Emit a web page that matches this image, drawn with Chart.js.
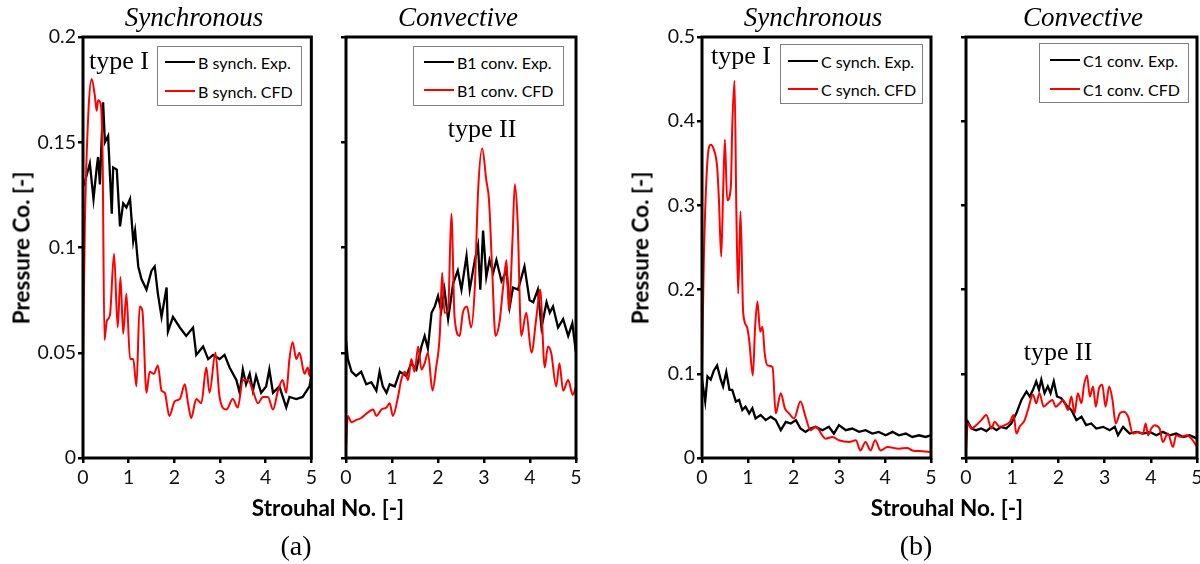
<!DOCTYPE html>
<html><head><meta charset="utf-8">
<script src="https://cdn.jsdelivr.net/npm/chart.js@4.4.1/dist/chart.umd.min.js"></script>
<style>
html,body{margin:0;padding:0;background:#fff;width:1200px;height:564px;overflow:hidden;}
body{position:relative;}
canvas{position:absolute;top:0;}
.t{position:absolute;transform:translate(-50%,-50%);white-space:nowrap;color:#000;z-index:2;}
.ttl{font-family:"Liberation Serif","Times New Roman",serif;font-style:italic;font-size:27px;}
.typ{font-family:"Liberation Serif","Times New Roman",serif;font-size:26px;}
.lab{font-family:"Liberation Serif","Times New Roman",serif;font-size:28px;}
.ax{font-family:Lato,"Open Sans",sans-serif;font-weight:bold;font-size:22.5px;}
.rot{transform:translate(-50%,-50%) rotate(-90deg);}
.leg{position:absolute;border:1px solid #808080;background:#fff;font-family:Lato,"Open Sans",sans-serif;font-size:16px;color:#000;z-index:2;box-sizing:border-box;}
.row{position:absolute;height:20px;display:flex;align-items:center;white-space:nowrap;}
.ln{display:inline-block;width:30px;height:2px;margin-right:3px;}
</style>
</head><body>
<canvas id="c1" width="320" height="500" style="left:0px;width:320px;height:500px"></canvas>
<canvas id="c2" width="256" height="500" style="left:330px;width:256px;height:500px"></canvas>
<canvas id="c3" width="340" height="500" style="left:600px;width:340px;height:500px"></canvas>
<canvas id="c4" width="265" height="500" style="left:945px;width:265px;height:500px"></canvas>

<div class="t ttl" style="left:194px;top:17px">Synchronous</div>
<div class="t ttl" style="left:458px;top:17px">Convective</div>
<div class="t ttl" style="left:813px;top:17px">Synchronous</div>
<div class="t ttl" style="left:1083px;top:17px">Convective</div>

<div class="t typ" style="left:119px;top:61px">type I</div>
<div class="t typ" style="left:482px;top:129px">type II</div>
<div class="t typ" style="left:741px;top:56px">type I</div>
<div class="t typ" style="left:1058px;top:352px">type II</div>

<div class="t ax rot" style="left:21px;top:248px">Pressure Co. [-]</div>
<div class="t ax rot" style="left:640px;top:248px">Pressure Co. [-]</div>
<div class="t ax" style="left:328px;top:507px">Strouhal No. [-]</div>
<div class="t ax" style="left:947px;top:507px">Strouhal No. [-]</div>

<div class="t lab" style="left:296px;top:546px">(a)</div>
<div class="t lab" style="left:916px;top:546px">(b)</div>

<div class="leg" style="left:157px;top:46px;width:145px;height:60px">
  <div class="row" style="left:7px;top:5px"><span class="ln" style="background:#000"></span>B synch. Exp.</div>
  <div class="row" style="left:7px;top:34px"><span class="ln" style="background:#f00"></span>B synch. CFD</div>
</div>
<div class="leg" style="left:413px;top:46px;width:151px;height:60px">
  <div class="row" style="left:10px;top:5px"><span class="ln" style="background:#000"></span>B1 conv. Exp.</div>
  <div class="row" style="left:10px;top:33px"><span class="ln" style="background:#f00"></span>B1 conv. CFD</div>
</div>
<div class="leg" style="left:780px;top:44px;width:143px;height:60px">
  <div class="row" style="left:7px;top:6px"><span class="ln" style="background:#000"></span>C synch. Exp.</div>
  <div class="row" style="left:7px;top:34px"><span class="ln" style="background:#f00"></span>C synch. CFD</div>
</div>
<div class="leg" style="left:1039px;top:43px;width:150px;height:60px">
  <div class="row" style="left:10px;top:6px"><span class="ln" style="background:#000"></span>C1 conv. Exp.</div>
  <div class="row" style="left:10px;top:35px"><span class="ln" style="background:#f00"></span>C1 conv. CFD</div>
</div>

<script>
// ---- tick values / labels ----
const xTicks = [0,1,2,3,4,5];
const xTickLabels = ['0','1','2','3','4','5'];
const yTicksA = [0,0.05,0.1,0.15,0.2];
const yTickLabelsA = ['0','0.05','0.1','0.15','0.2'];
const yTicksB = [0,0.1,0.2,0.3,0.4,0.5];
const yTickLabelsB = ['0','0.1','0.2','0.3','0.4','0.5'];

// ---- (a) B synch ----
const bsExpX = [0,0.04,0.15,0.23,0.30,0.33,0.37,0.44,0.48,0.55,0.63,0.66,0.74,0.81,0.88,0.95,1.03,1.10,1.14,1.21,1.28,1.39,1.50,1.57,1.64,1.72,1.83,1.86,1.97,2.12,2.26,2.41,2.48,2.63,2.74,2.85,2.99,3.10,3.21,3.36,3.43,3.50,3.57,3.65,3.72,3.79,3.90,4.01,4.08,4.16,4.30,4.45,4.52,4.67,4.81,4.96,5.0];
const bsExpY = [0.129,0.131,0.140,0.123,0.138,0.143,0.130,0.169,0.150,0.153,0.116,0.138,0.137,0.110,0.121,0.119,0.123,0.103,0.108,0.091,0.085,0.080,0.089,0.091,0.078,0.067,0.081,0.060,0.067,0.062,0.058,0.062,0.049,0.053,0.047,0.049,0.047,0.049,0.043,0.037,0.031,0.042,0.035,0.040,0.032,0.039,0.031,0.034,0.042,0.031,0.034,0.024,0.029,0.028,0.029,0.034,0.039];
const bsCfdX = [0,0.04,0.12,0.19,0.26,0.30,0.33,0.39,0.43,0.47,0.52,0.59,0.68,0.76,0.82,0.88,0.95,1.03,1.10,1.17,1.24,1.30,1.39,1.46,1.55,1.64,1.72,1.79,1.89,2.01,2.12,2.23,2.30,2.37,2.48,2.59,2.70,2.77,2.90,2.99,3.14,3.28,3.39,3.50,3.61,3.72,3.83,3.94,4.05,4.16,4.27,4.37,4.45,4.52,4.59,4.67,4.74,4.85,4.92,4.96,5.0];
const bsCfdY = [0.043,0.110,0.165,0.180,0.172,0.165,0.170,0.168,0.142,0.056,0.065,0.068,0.097,0.062,0.086,0.059,0.078,0.047,0.047,0.034,0.072,0.070,0.031,0.041,0.040,0.044,0.032,0.031,0.020,0.027,0.028,0.035,0.026,0.019,0.028,0.026,0.043,0.031,0.050,0.029,0.023,0.028,0.024,0.037,0.037,0.032,0.026,0.029,0.029,0.023,0.032,0.037,0.031,0.047,0.055,0.047,0.050,0.040,0.043,0.039,0.049];

// ---- (a) B1 conv ----
const b1ExpX = [0,0.04,0.12,0.22,0.33,0.44,0.55,0.66,0.73,0.80,0.88,0.95,1.06,1.17,1.31,1.42,1.53,1.64,1.71,1.78,1.86,1.93,2.00,2.07,2.14,2.22,2.33,2.43,2.51,2.62,2.69,2.80,2.87,2.92,2.98,3.05,3.12,3.20,3.27,3.38,3.49,3.56,3.63,3.74,3.88,3.99,4.07,4.17,4.25,4.36,4.43,4.50,4.61,4.72,4.83,4.92,5.0];
const b1ExpY = [0.056,0.047,0.041,0.039,0.041,0.035,0.036,0.032,0.041,0.034,0.031,0.035,0.034,0.041,0.039,0.045,0.042,0.053,0.058,0.052,0.069,0.072,0.077,0.070,0.080,0.066,0.083,0.089,0.080,0.096,0.080,0.094,0.101,0.080,0.108,0.086,0.094,0.088,0.094,0.084,0.089,0.072,0.081,0.080,0.091,0.075,0.074,0.080,0.062,0.074,0.069,0.072,0.062,0.066,0.058,0.064,0.050];
const b1CfdX = [0,0.04,0.12,0.22,0.33,0.44,0.59,0.66,0.77,0.88,0.95,1.02,1.13,1.20,1.28,1.35,1.42,1.49,1.57,1.64,1.71,1.78,1.88,1.96,2.04,2.09,2.14,2.22,2.29,2.36,2.47,2.54,2.63,2.72,2.80,2.87,2.96,3.05,3.11,3.18,3.25,3.34,3.41,3.49,3.54,3.62,3.67,3.73,3.81,3.92,4.03,4.14,4.22,4.32,4.39,4.46,4.57,4.64,4.72,4.83,4.93,5.0];
const b1CfdY = [0.005,0.020,0.017,0.018,0.019,0.021,0.023,0.020,0.023,0.024,0.026,0.020,0.029,0.037,0.041,0.037,0.047,0.041,0.053,0.042,0.045,0.050,0.032,0.043,0.059,0.088,0.069,0.070,0.116,0.067,0.058,0.069,0.072,0.062,0.081,0.126,0.147,0.132,0.122,0.088,0.058,0.065,0.080,0.094,0.070,0.104,0.130,0.113,0.058,0.069,0.050,0.067,0.080,0.043,0.053,0.050,0.034,0.045,0.032,0.037,0.030,0.034];

// ---- (b) C synch ----
const csExpX = [0,0.07,0.12,0.19,0.26,0.33,0.41,0.46,0.53,0.60,0.66,0.74,0.81,0.88,0.95,1.03,1.10,1.17,1.28,1.39,1.50,1.61,1.72,1.83,1.94,2.05,2.15,2.26,2.37,2.48,2.63,2.77,2.88,2.99,3.14,3.28,3.43,3.57,3.72,3.86,4.01,4.16,4.30,4.45,4.59,4.74,4.88,5.0];
const csExpY = [0.093,0.067,0.097,0.093,0.104,0.110,0.093,0.085,0.102,0.081,0.081,0.067,0.069,0.057,0.061,0.053,0.059,0.047,0.051,0.045,0.049,0.045,0.033,0.043,0.041,0.045,0.035,0.031,0.035,0.037,0.033,0.037,0.029,0.039,0.033,0.035,0.031,0.033,0.029,0.031,0.027,0.031,0.027,0.029,0.025,0.027,0.025,0.027];
const csCfdX = [0,0.04,0.12,0.19,0.26,0.33,0.37,0.42,0.46,0.50,0.55,0.63,0.66,0.71,0.75,0.79,0.84,0.90,0.98,1.03,1.11,1.16,1.21,1.27,1.32,1.37,1.43,1.54,1.61,1.72,1.81,1.90,2.01,2.15,2.26,2.37,2.48,2.70,2.85,2.99,3.21,3.36,3.46,3.57,3.68,3.78,3.90,4.05,4.30,4.48,4.59,4.81,5.0];
const csCfdY = [0.108,0.235,0.354,0.372,0.366,0.346,0.306,0.239,0.314,0.378,0.306,0.322,0.393,0.448,0.295,0.195,0.293,0.172,0.156,0.140,0.098,0.156,0.186,0.150,0.156,0.124,0.110,0.108,0.053,0.077,0.059,0.053,0.047,0.067,0.049,0.033,0.037,0.023,0.025,0.021,0.019,0.021,0.009,0.019,0.009,0.021,0.009,0.013,0.011,0.012,0.009,0.008,0.007];

// ---- (b) C1 conv ----
const c1ExpX = [0,0.04,0.12,0.22,0.33,0.44,0.55,0.66,0.76,0.87,0.98,1.09,1.20,1.31,1.38,1.45,1.52,1.58,1.63,1.70,1.77,1.83,1.90,1.97,2.06,2.17,2.28,2.39,2.50,2.60,2.71,2.82,2.97,3.11,3.22,3.29,3.40,3.54,3.69,3.83,3.98,4.12,4.26,4.41,4.55,4.70,4.84,5.0];
const c1ExpY = [0.037,0.043,0.035,0.033,0.035,0.032,0.037,0.033,0.037,0.035,0.041,0.053,0.069,0.079,0.073,0.081,0.091,0.081,0.093,0.077,0.085,0.077,0.091,0.073,0.071,0.063,0.057,0.045,0.049,0.039,0.041,0.035,0.037,0.033,0.037,0.027,0.037,0.029,0.031,0.029,0.031,0.027,0.031,0.027,0.029,0.025,0.027,0.023];
const c1CfdX = [0,0.04,0.12,0.22,0.33,0.44,0.55,0.62,0.73,0.84,0.95,1.03,1.09,1.16,1.27,1.34,1.45,1.52,1.59,1.68,1.77,1.87,1.94,2.03,2.10,2.21,2.28,2.35,2.42,2.50,2.55,2.62,2.68,2.75,2.81,2.88,2.95,3.02,3.10,3.17,3.24,3.33,3.41,3.51,3.61,3.72,3.83,3.89,3.94,4.01,4.08,4.19,4.26,4.37,4.48,4.55,4.66,4.77,4.88,5.0];
const c1CfdY = [0.010,0.041,0.035,0.039,0.045,0.051,0.035,0.043,0.037,0.039,0.043,0.051,0.029,0.037,0.045,0.057,0.075,0.065,0.077,0.061,0.065,0.069,0.061,0.065,0.069,0.057,0.073,0.053,0.077,0.065,0.085,0.098,0.073,0.085,0.061,0.083,0.087,0.061,0.085,0.069,0.041,0.053,0.055,0.049,0.029,0.031,0.029,0.041,0.027,0.035,0.039,0.035,0.019,0.029,0.013,0.027,0.025,0.027,0.023,0.013];

const pts = (xs, ys) => xs.map((x, i) => ({x: x, y: ys[i]}));

const framePlugin = {
  id: 'frame',
  afterDatasetsDraw(chart) {
    const a = chart.chartArea, c = chart.ctx;
    c.save();
    c.strokeStyle = '#000';
    c.lineWidth = 3;
    c.strokeRect(a.left, a.top, a.right - a.left, a.bottom - a.top);
    c.restore();
  }
};

const tickFont = {family: 'Lato, "Open Sans", sans-serif', size: 19.5};

function makePanel(id, o) {
  new Chart(document.getElementById(id), {
    type: 'line',
    data: {
      datasets: [
        {data: pts(o.cx, o.cy), borderColor: '#ff0000', borderWidth: 2, cubicInterpolationMode: 'monotone', pointRadius: 0, fill: false, order: 0},
        {data: pts(o.ex, o.ey), borderColor: '#000000', borderWidth: 2.3, tension: 0, pointRadius: 0, fill: false, order: 1}
      ]
    },
    options: {
      responsive: false,
      animation: false,
      events: [],
      layout: {padding: {top: 37, right: o.pr, left: 0, bottom: 0}},
      plugins: {legend: {display: false}, tooltip: {enabled: false}, title: {display: false}},
      scales: {
        x: {
          type: 'linear', min: 0, max: 5,
          afterBuildTicks: s => { s.ticks = xTicks.map(v => ({value: v})); },
          afterFit: s => { s.height = 42; },
          ticks: {font: tickFont, color: '#111', padding: 3, maxRotation: 0, autoSkip: false,
                  callback: (v, i) => xTickLabels[i]},
          grid: {drawOnChartArea: false, drawTicks: true, tickLength: 5, lineWidth: 2.5, color: '#000'},
          border: {display: false}
        },
        y: {
          type: 'linear', min: 0, max: o.ymax,
          afterBuildTicks: s => { s.ticks = o.yt.map(v => ({value: v})); },
          afterFit: s => { s.width = o.yw; },
          ticks: {display: o.showY, font: tickFont, color: '#111', padding: 2, autoSkip: false,
                  callback: (v, i) => o.yl[i]},
          grid: {drawOnChartArea: false, drawTicks: true, tickLength: 5, lineWidth: 2.5, color: '#000'},
          border: {display: false}
        }
      }
    },
    plugins: [framePlugin]
  });
}

makePanel('c1', {ex: bsExpX, ey: bsExpY, cx: bsCfdX, cy: bsCfdY, ymax: 0.2, yt: yTicksA, yl: yTickLabelsA, showY: true, yw: 83, pr: 8});
makePanel('c2', {ex: b1ExpX, ey: b1ExpY, cx: b1CfdX, cy: b1CfdY, ymax: 0.2, yt: yTicksA, yl: yTickLabelsA, showY: false, yw: 16, pr: 10});
makePanel('c3', {ex: csExpX, ey: csExpY, cx: csCfdX, cy: csCfdY, ymax: 0.5, yt: yTicksB, yl: yTickLabelsB, showY: true, yw: 102, pr: 9});
makePanel('c4', {ex: c1ExpX, ey: c1ExpY, cx: c1CfdX, cy: c1CfdY, ymax: 0.5, yt: yTicksB, yl: yTickLabelsB, showY: false, yw: 21, pr: 13});
</script>
</body></html>
